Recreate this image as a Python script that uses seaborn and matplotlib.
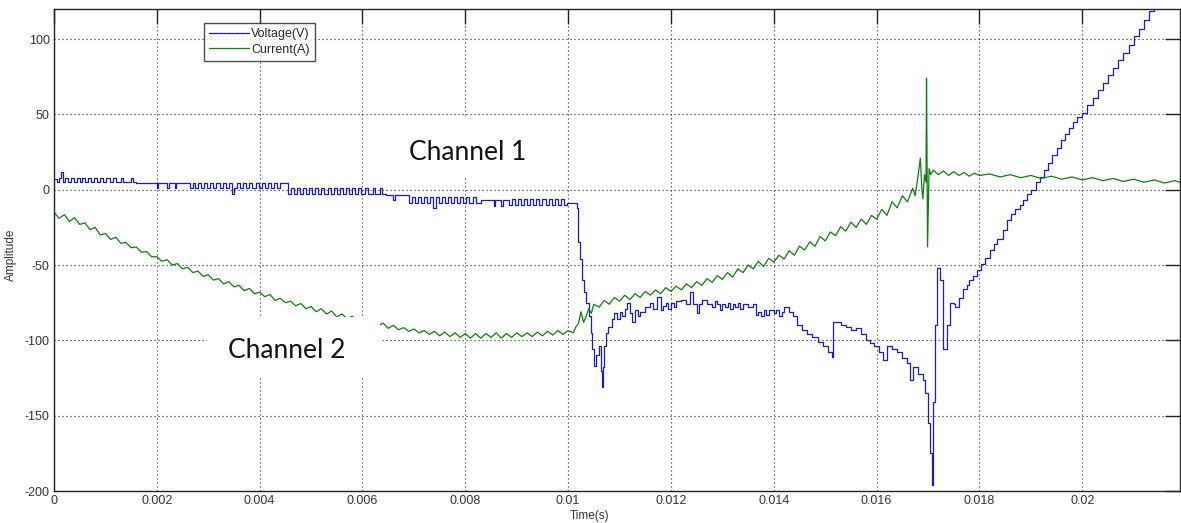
import numpy as np
import pandas as pd
import matplotlib
matplotlib.use('Agg')
import matplotlib.pyplot as plt
import seaborn as sns
from matplotlib.patches import Rectangle

# ---- data (time in ms) ----
volt_t_ms = [
    0.00, 0.05, 0.10, 0.14, 0.17, 0.22, 0.28, 0.33, 0.38, 0.44, 0.50, 0.55, 0.60, 0.66, 0.72, 0.78,
    0.84, 0.90, 0.96, 1.02, 1.08, 1.14, 1.20, 1.30, 1.34, 1.50, 1.53,
    1.60, 2.00, 2.03, 2.20, 2.23, 2.35, 2.38,
    2.65, 2.70, 2.75, 2.80, 2.86, 2.92, 2.98, 3.04, 3.10, 3.16, 3.22, 3.28, 3.34, 3.40, 3.46, 3.50,
    3.56, 3.62, 3.68, 3.74, 3.80, 3.86, 3.92, 3.98, 4.04, 4.10, 4.16, 4.22, 4.28, 4.34, 4.40,
    4.55, 4.60, 4.66, 4.72, 4.78, 4.84, 4.90, 4.96, 5.02, 5.08, 5.14, 5.20, 5.26, 5.32, 5.38, 5.44,
    5.50, 5.56, 5.62, 5.68, 5.74, 5.80, 5.86, 5.92, 5.98, 6.04, 6.10, 6.20, 6.24, 6.35, 6.38,
    6.45, 6.60, 6.63,
    6.90, 6.96, 7.02, 7.08, 7.14, 7.20, 7.26, 7.32, 7.38, 7.42, 7.48, 7.54, 7.60, 7.66, 7.72, 7.78,
    7.84, 7.90, 7.96, 8.02, 8.08, 8.14, 8.20, 8.30, 8.55, 8.58, 8.70, 8.73, 8.85, 8.90, 8.96, 9.02,
    9.08, 9.14, 9.20, 9.26, 9.32, 9.38, 9.44, 9.50, 9.56, 9.62, 9.68, 9.74, 9.80, 9.86, 9.92, 9.98,
    10.17, 10.20, 10.23, 10.27, 10.30, 10.35, 10.40, 10.44, 10.47, 10.50, 10.55, 10.60, 10.63, 10.66,
    10.68, 10.70, 10.74, 10.78, 10.85, 10.90, 10.95, 11.00, 11.05, 11.10, 11.15, 11.20, 11.25, 11.30,
    11.35, 11.40, 11.50, 11.60, 11.65, 11.73, 11.80, 11.85, 11.90, 11.95, 12.00, 12.05, 12.10, 12.20,
    12.30, 12.37, 12.42, 12.50, 12.55, 12.60, 12.70, 12.80, 12.85, 12.90, 12.95, 13.00, 13.05, 13.10,
    13.15, 13.20, 13.25, 13.30, 13.35, 13.40, 13.50, 13.60, 13.65, 13.70, 13.75, 13.80, 13.85, 13.90,
    14.00, 14.05, 14.10, 14.15, 14.20, 14.30, 14.38, 14.45, 14.55, 14.65, 14.75, 14.85, 14.95, 15.05,
    15.13, 15.16, 15.30, 15.40, 15.50, 15.60, 15.70, 15.80, 15.88, 15.95, 16.05, 16.13, 16.20, 16.30,
    16.40, 16.50, 16.60, 16.65, 16.70, 16.80, 16.90, 16.95, 17.00, 17.04, 17.08, 17.10, 17.14, 17.18,
    17.24, 17.30, 17.36, 17.43, 17.50, 17.53, 17.60, 17.68, 17.75, 17.80, 17.88, 17.96, 18.03, 18.10,
    18.20, 18.28, 18.35, 18.45, 18.54, 18.62, 18.70, 18.78, 18.85, 18.93, 19.00, 19.10, 19.18, 19.26,
    19.34, 19.42, 19.50, 19.58, 19.66, 19.74, 19.82, 19.90, 20.00, 20.10, 20.20, 20.30, 20.40, 20.50,
    20.60, 20.70, 20.80, 20.90, 21.00, 21.10, 21.20, 21.30, 21.40, 21.90,
]
volt_v = [
    7, 5, 8, 12, 5, 8, 5, 8, 5, 8, 5, 8, 5, 8, 5, 8,
    5, 8, 5, 8, 5, 8, 5, 8, 5, 8, 5,
    4.5, 1, 4.5, 1, 4.5, 1, 4.5,
    1, 4.5, 1, 4.5, 1, 4.5, 1, 4.5, 1, 4.5, 1, 4.5, 1, 4.5, -3, 1,
    4.5, 1, 4.5, 1, 4.5, 1, 4.5, 1, 4.5, 1, 4.5, 1, 4.5, 1, 4.5,
    -3, 1, -3, 1, -3, 1, -3, 1, -3, 1, -3, 1, -3, 1, -3, 1,
    -3, 1, -3, 1, -3, 1, -3, 1, -3, 1, -3, 1, -3, 1, -3,
    -3.5, -7, -3.5,
    -8.5, -4.5, -8.5, -4.5, -8.5, -4.5, -8.5, -4.5, -12, -4.5, -8.5, -4.5, -8.5, -4.5, -8.5, -4.5,
    -8.5, -4.5, -8.5, -4.5, -8.5, -4.5, -8.5, -7, -11, -7, -11, -7, -10, -6, -10, -6,
    -10, -6, -10, -6, -10, -6, -10, -6, -10, -6, -10, -6, -10, -6, -10, -8.5,
    -12, -35, -46, -60, -68, -75, -84, -95, -106, -117, -110, -104, -120, -131,
    -118, -104, -95, -91, -86, -82, -86, -81, -84, -79, -75, -82, -88, -80,
    -84, -81, -78, -75, -79, -71, -80, -77, -75, -79, -75, -78, -74, -73,
    -76, -68, -76, -82, -76, -73, -76, -78, -74, -76, -80, -76, -78, -75,
    -79, -76, -78, -75, -79, -76, -78, -76, -83, -81, -84, -80, -83, -80,
    -82, -80, -84, -81, -78, -81, -84, -90, -93, -96, -98, -101, -104, -108,
    -111, -88, -90, -91, -93, -92, -96, -100, -102, -104, -108, -113, -104, -106,
    -108, -112, -115, -126, -118, -122, -126, -135, -155, -175, -196, -141, -90, -52,
    -60, -106, -90, -75, -76, -78, -72, -66, -63, -60, -57, -53, -49, -45,
    -40, -36, -33, -27, -20, -16, -13, -10, -6.6, -3, 0, 5, 8.6, 13,
    18, 23, 28, 33, 37, 41, 45, 48, 51, 56, 61, 66, 71, 76,
    81, 86, 91, 96, 102, 107, 113, 119, 124, 130,
]

curr_t_ms = [
    0.0, 0.1, 0.2, 0.3, 0.4, 0.5, 0.6, 0.7, 0.8, 0.9, 1.0, 1.1, 1.2, 1.3, 1.4, 1.5, 1.6, 1.7, 1.8, 1.9,
    2.0, 2.1, 2.2, 2.3, 2.4, 2.5, 2.6, 2.7, 2.8, 2.9, 3.0, 3.1, 3.2, 3.3, 3.4, 3.5, 3.6, 3.7, 3.8, 3.9,
    4.0, 4.1, 4.2, 4.3, 4.4, 4.5, 4.6, 4.7, 4.8, 4.9, 5.0, 5.1, 5.2, 5.3, 5.4, 5.5, 5.6, 5.7, 5.8, 5.9,
    6.0, 6.1, 6.2, 6.3, 6.4, 6.5, 6.6, 6.7, 6.8, 6.9, 7.0, 7.1, 7.2, 7.3, 7.4, 7.5, 7.6, 7.7, 7.8, 7.9,
    8.0, 8.1, 8.2, 8.3, 8.4, 8.5, 8.6, 8.7, 8.8, 8.9, 9.0, 9.1, 9.2, 9.3, 9.4, 9.5, 9.6, 9.7, 9.8, 9.9,
    10.0, 10.1, 10.15, 10.2, 10.25, 10.3, 10.35, 10.4, 10.45, 10.5, 10.6, 10.7, 10.8, 10.9,
    11.0, 11.1, 11.2, 11.3, 11.4, 11.5, 11.6, 11.7, 11.8, 11.9, 12.0, 12.1, 12.2, 12.3, 12.4, 12.5,
    12.6, 12.7, 12.8, 12.9, 13.0, 13.1, 13.2, 13.3, 13.4, 13.5, 13.6, 13.7, 13.8, 13.9, 14.0, 14.1,
    14.2, 14.3, 14.4, 14.5, 14.6, 14.7, 14.8, 14.9, 15.0, 15.1, 15.2, 15.3, 15.4, 15.5, 15.6, 15.7,
    15.8, 15.9, 16.0, 16.1, 16.2, 16.3, 16.4, 16.5, 16.6, 16.7, 16.75, 16.8, 16.85, 16.88, 16.9, 16.93,
    16.96, 16.97, 16.99, 17.02, 17.05, 17.1, 17.2, 17.3, 17.4, 17.5, 17.6, 17.7, 17.8, 17.9, 18.0,
    18.2, 18.4, 18.6, 18.8, 19.0, 19.2, 19.4, 19.6, 19.8, 20.0, 20.2, 20.4, 20.6, 20.8, 21.0, 21.2,
    21.4, 21.6, 21.8, 21.9,
]
curr_a = [
    -15, -19, -16.5, -21, -18.5, -23, -22, -26.5, -25, -30, -29, -33, -31.5, -35.5, -35, -38.5, -38, -41.5, -41, -44.5,
    -44.5, -47.5, -46.5, -50, -49, -52.5, -51.5, -55, -54, -57.5, -56.5, -60, -59, -62.5, -61, -64.5, -63.5, -67, -65.5, -69,
    -68, -71, -69.5, -73.5, -72, -75, -74, -77, -75.5, -79, -77.5, -81, -79, -82.5, -80.5, -84.5, -82.5, -85.5, -84, -87,
    -85.5, -88.5, -87, -90.5, -88.5, -92, -90, -93, -91.5, -94, -92.5, -95, -93.5, -96, -94, -97, -94.5, -97.5, -95, -98,
    -95.5, -98.5, -95.5, -98.5, -95.5, -98, -95, -98.5, -95.5, -98, -95, -97.5, -95, -97.5, -94.5, -97, -94, -96.5, -93.5, -96,
    -93.5, -95, -91, -89, -81, -88, -84, -79, -82, -76, -78, -73.5, -76, -71.5,
    -74, -70, -73, -69, -71.5, -67.5, -70, -66.5, -69, -65, -67.5, -64, -66.5, -62.5, -65, -61,
    -63.5, -59, -61.5, -57, -59.5, -55, -58, -52.5, -55, -50, -52.5, -47.5, -51, -45.5, -48, -43.5,
    -46, -40.5, -43.5, -37.5, -40, -34.5, -37.5, -31, -34, -28, -30.5, -24.5, -27.5, -21.5, -25, -19.5,
    -23, -17, -19.5, -13, -17, -8, -12, -4, -8, 1, -4, 8, 21, 0, -6, 10,
    5, 74, -38, 14, 10, 13, 10, 12.5, 9.5, 12, 9.5, 11.5, 9, 11, 9.5,
    10.5, 8.5, 10, 8, 9.5, 7.5, 9, 7, 8.5, 6.5, 8, 6, 7.5, 5.5, 7, 5,
    6.5, 4.5, 6, 5,
]

x_ticks = [0, 0.002, 0.004, 0.006, 0.008, 0.01, 0.012, 0.014, 0.016, 0.018, 0.02]
x_tick_labels = ['0', '0.002', '0.004', '0.006', '0.008', '0.01', '0.012', '0.014', '0.016', '0.018', '0.02']
y_ticks = [-200, -150, -100, -50, 0, 50, 100]

volt = pd.DataFrame({'t': np.array(volt_t_ms) / 1000, 'v': volt_v})
curr = pd.DataFrame({'t': np.array(curr_t_ms) / 1000, 'a': curr_a})

sns.set_style('white')
plt.rcParams['font.family'] = ['Liberation Sans', 'DejaVu Sans']
plt.rcParams['axes.unicode_minus'] = False

fig = plt.figure(figsize=(11.81, 5.23), dpi=100)
ax = fig.add_axes([54 / 1181, 32 / 523, 1126 / 1181, 482 / 523])

sns.lineplot(data=volt, x='t', y='v', ax=ax, color='#1c1cb4', lw=0.9,
             drawstyle='steps-post', estimator=None, sort=False, label='Voltage(V)', zorder=2)
sns.lineplot(data=curr, x='t', y='a', ax=ax, color='#127a12', lw=0.9,
             estimator=None, sort=False, label='Current(A)', zorder=2)

ax.set_xlim(0, 0.0219)
ax.set_ylim(-200, 120)
ax.set_xticks(x_ticks)
ax.set_xticklabels(x_tick_labels)
ax.set_yticks(y_ticks)
ax.grid(True, color='#222222', linestyle=(0, (1, 2.6)), linewidth=0.8)
ax.set_axisbelow(True)

ax.tick_params(direction='in', length=11, width=1, colors='#222222', labelcolor='#333333',
               labelsize=9, top=True, right=True, pad=3)
for s in ax.spines.values():
    s.set_visible(True)
    s.set_color('#222222')
    s.set_linewidth(1)

ax.set_xlabel('Time(s)', fontsize=8.5, color='#333333')
ax.xaxis.set_label_coords(0.476, -0.04)
ax.set_ylabel('Amplitude', fontsize=8.5, color='#333333')
ax.yaxis.set_label_coords(-0.033, 0.49)

# white boxes pasted behind the channel annotations
ax.add_patch(Rectangle((0.00605, 8), 0.00391, 39.8, facecolor='white', edgecolor='none', zorder=3))
ax.add_patch(Rectangle((0.00298, -124.8), 0.00336, 40.3, facecolor='white', edgecolor='none', zorder=3))
ax.text(0.00804, 19.9, 'Channel 1', fontsize=19, family=['Lato', 'DejaVu Sans'],
        ha='center', va='baseline', color='#111111', zorder=4)
ax.text(0.00453, -111.5, 'Channel 2', fontsize=19, family=['Lato', 'DejaVu Sans'],
        ha='center', va='baseline', color='#111111', zorder=4)

leg = ax.legend(loc='upper left', bbox_to_anchor=(0.133, 0.971), borderaxespad=0,
                fontsize=9, frameon=True, fancybox=False, handlelength=3.2,
                handletextpad=0.2, borderpad=0.4, labelspacing=0.3)
leg.get_frame().set_edgecolor('#222222')
leg.get_frame().set_linewidth(1)
for line in leg.get_lines():
    line.set_linewidth(0.9)

fig.savefig('out.png', dpi=100)
